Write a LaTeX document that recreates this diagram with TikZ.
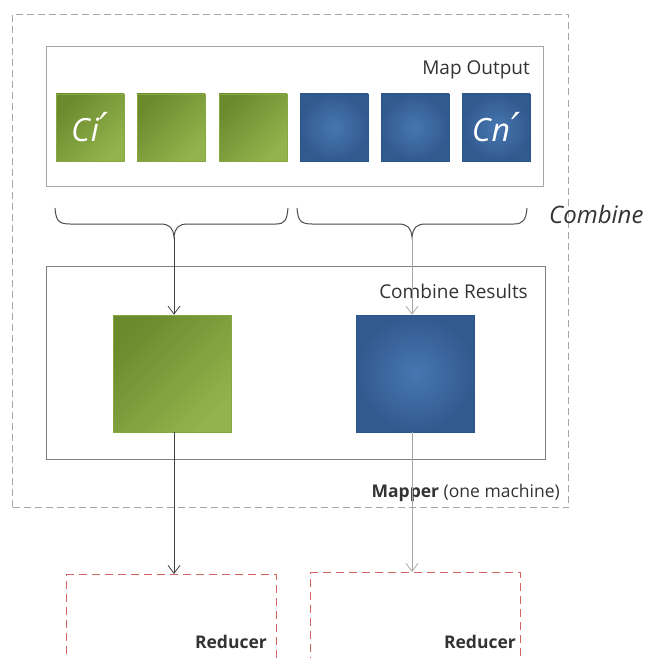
\documentclass[tikz,border=0pt]{standalone}
\usepackage{fontspec}
\setmainfont{Open Sans}
\newfontfamily\djv{DejaVu Sans}
\usetikzlibrary{arrows.meta}
\definecolor{gdark}{HTML}{6B8A2E}
\definecolor{glight}{HTML}{93B34C}
\definecolor{gedge}{HTML}{86A83E}
\definecolor{binner}{HTML}{4676B0}
\definecolor{bouter}{HTML}{335A8F}
\definecolor{bedge}{HTML}{2A5590}
\definecolor{txt}{HTML}{333333}
\definecolor{redd}{HTML}{D26464}
\tikzset{
  panel/.style={draw=#1, line width=1pt, anchor=north west, inner sep=0pt},
  gsq/.style={draw=gedge, line width=0.6pt, top color=gdark, bottom color=glight, shading angle=45, inner sep=0pt, text=white},
  bsq/.style={draw=bedge, line width=0.6pt, shading=radial, inner color=binner, outer color=bouter, inner sep=0pt, text=white},
  small/.style={minimum width=68pt, minimum height=67pt},
  big/.style={minimum width=118pt, minimum height=117pt},
  lbl/.style={text=txt, font=\fontsize{19}{22}\selectfont, inner sep=0pt},
  lblb/.style={text=txt, font=\fontsize{17.5}{20}\selectfont, inner sep=0pt},
  dk/.style={draw=black!75, line width=0.8pt, -{Straight Barb[length=8pt,width=12pt,line width=0.8pt]}},
  lt/.style={draw=black!35, line width=0.8pt, -{Straight Barb[length=8pt,width=12pt,line width=0.8pt]}},
  brc/.style={draw=black!70, line width=1pt},
  reducer/.style={draw=redd, line width=1pt, dash pattern=on 8pt off 5pt, anchor=north west, minimum width=210pt, minimum height=120pt, inner sep=0pt},
  celltxt/.style={font=\fontsize{32}{34}\selectfont\itshape}
}
\newcommand{\myprime}{{\djv\fontsize{40}{40}\selectfont\itshape ′}}
\begin{document}
\begin{tikzpicture}[x=1pt,y=-1pt]
\clip (0,0) rectangle (645,658);
\fill[white] (0,0) rectangle (645,658);
% mapper
\node[panel=black!35, dash pattern=on 7pt off 4pt, minimum width=556pt, minimum height=493pt] (mapper) at (12,14) {};
\node[lblb, anchor=base east] (mapperlbl) at (560,497) {\textbf{Mapper} (one machine)};
% map output
\node[panel=black!35, minimum width=497pt, minimum height=140pt] (mapout) at (46,46) {};
\node[lbl, anchor=base east] (mapoutlbl) at (530,75) {Map Output};
\node[gsq, small, celltxt] (g1) at (90,127.5) {C\kern1pt i\kern1pt\myprime};
\node[gsq, small] (g2) at (171,127.5) {};
\node[gsq, small] (g3) at (253,127.5) {};
\node[bsq, small] (b1) at (334,127.5) {};
\node[bsq, small] (b2) at (415,127.5) {};
\node[bsq, small, celltxt] (b3) at (496,127.5) {C\kern1pt n\kern1pt\myprime};
% braces
\draw[brc] (55,208) .. controls (56,220) and (58,224) .. (70,224) -- (160,224) .. controls (170,224) and (173,228) .. (174,237)
  .. controls (175,228) and (178,224) .. (188,224) -- (276,224) .. controls (285,224) and (287,220) .. (288,208);
\draw[brc] (297,208) .. controls (298,220) and (300,224) .. (312,224) -- (398,224) .. controls (408,224) and (411,228) .. (412,237)
  .. controls (413,228) and (416,224) .. (426,224) -- (514,224) .. controls (523,224) and (526,220) .. (527,208);
\coordinate (t1) at (174,237);
\coordinate (t2) at (412,237);
\node[text=txt, font=\fontsize{24}{26}\selectfont\itshape, anchor=base west, inner sep=0pt] (comb) at (549,223) {Combine};
% combine results
\node[panel=black!50, minimum width=499pt, minimum height=193pt] (cres) at (46,266) {};
\node[lbl, anchor=base east] (creslbl) at (528,298) {Combine Results};
\node[gsq, big] (G) at (172,373.5) {};
\node[bsq, big] (B) at (415.5,373.5) {};
\draw[dk] (t1) -- (t1 |- G.north);
\draw[lt] (t2) -- (t2 |- B.north);
% reducers
\node[reducer] (r1) at (66,574) {};
\node[reducer] (r2) at (310,572) {};
\node[lblb, font=\fontsize{17.5}{20}\selectfont\bfseries, anchor=base east] (r1lbl) at (267,648) {Reducer};
\node[lblb, font=\fontsize{17.5}{20}\selectfont\bfseries, anchor=base east] (r2lbl) at (516,648) {Reducer};
\draw[dk] (G.south -| t1) -- (t1 |- r1.north);
\draw[lt] (B.south -| t2) -- (t2 |- r2.north);
\end{tikzpicture}
\end{document}
